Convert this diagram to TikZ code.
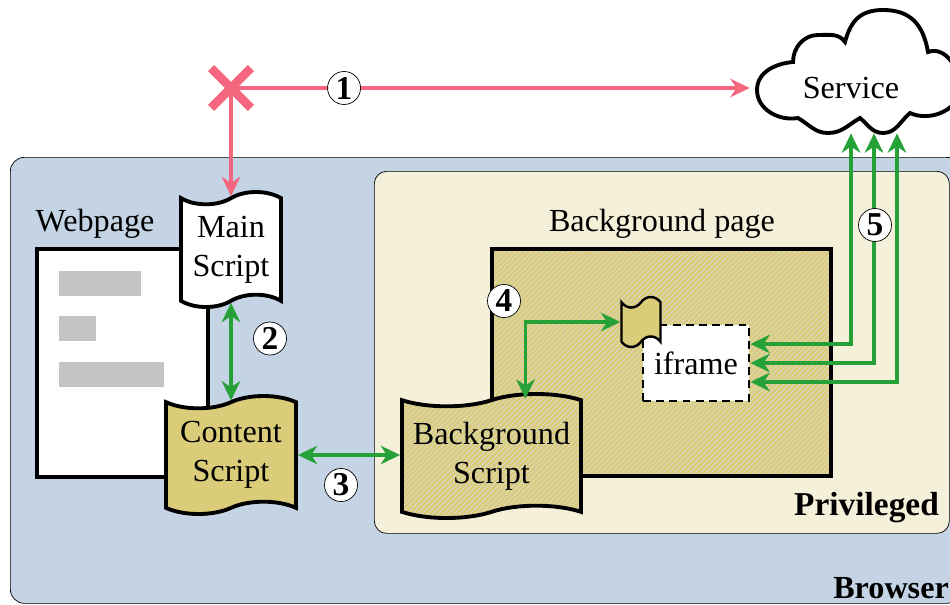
\documentclass[tikz,border=0pt]{standalone}
\usepackage{fontspec}
\setmainfont{Liberation Serif}
\usetikzlibrary{arrows.meta,positioning,patterns,shapes.symbols,shapes.misc}
\definecolor{browserblue}{HTML}{C5D4E5}
\definecolor{privcream}{HTML}{F5F0DA}
\definecolor{scriptyellow}{HTML}{DACC78}
\definecolor{okgreen}{HTML}{25A138}
\definecolor{badpink}{HTML}{F4677F}
\definecolor{bargray}{HTML}{C4C4C4}
\begin{document}
\begin{tikzpicture}[>={Stealth[length=11pt,width=10.5pt,inset=3.5pt]},on grid,node distance=2cm,
    every node/.style={font=\fontsize{18.3}{22}\selectfont,align=center},
    box/.style={draw=black,line width=2.2pt,inner sep=0pt},
    hatched/.style={preaction={fill=scriptyellow},preaction={pattern=north east lines,pattern color=gray!30}},
    script/.style={tape,draw=black,line width=2.2pt,inner sep=0pt,tape bend top=in and out,tape bend bottom=in and out,tape bend height=7pt},
    bar/.style={fill=bargray,inner sep=0pt,minimum height=.5cm,anchor=north west},
    numcirc/.style={circle,draw=black,fill=white,thin,inner sep=0pt,minimum size=.66cm,font=\fontsize{19}{20}\selectfont\bfseries},
    badline/.style={draw=badpink,line width=2pt,->},
    okline/.style={draw=okgreen,line width=2.2pt,<->}]
  \path[use as bounding box,clip] (0,0) rectangle (19,12.08);

  \node[draw=black,fill=browserblue,rounded corners=8pt,thin,inner sep=0pt,minimum width=19cm,minimum height=8.92cm,anchor=north west] (browser) at (.2,8.94) {};
  \node[draw=black,fill=privcream,rounded corners=7pt,thin,inner sep=0pt,minimum width=11.5cm,minimum height=7.24cm,anchor=north west] (priv) at (7.48,8.66) {};
  \node[anchor=east,font=\fontsize{18.3}{22}\selectfont\bfseries] (browserlabel) at (19.1,.32) {Browser};
  \node[anchor=east,font=\fontsize{19}{22}\selectfont\bfseries] (privlabel) at (18.9,1.92) {Privileged};

  \node[box,fill=white,minimum width=3.42cm,minimum height=4.56cm,anchor=north west] (page) at (.7,7.14) {};
  \node (pagelabel) at (1.9,7.6) {Webpage};
  \node[bar,minimum width=1.64cm] (bar1) at (1.18,6.66) {};
  \node[bar,minimum width=.74cm] (bar2) at (1.18,5.76) {};
  \node[bar,minimum width=2.1cm] (bar3) at (1.18,4.84) {};

  \node[box,hatched,minimum width=6.78cm,minimum height=4.54cm,anchor=north west] (bgpage) at (9.8,7.14) {};
  \node (bgpagelabel) at (13.24,7.6) {Background page};
  \node[draw=black,fill=white,dash pattern=on 4.5pt off 3pt,line width=1.6pt,inner sep=0pt,minimum width=2.12cm,minimum height=1.52cm] (iframe) at (13.92,4.82) {iframe};
  \node[script,fill=scriptyellow,line width=1.4pt,tape bend height=6pt,minimum width=.78cm,minimum height=1cm] (mini) at (12.82,5.64) {};

  \node[script,fill=white,minimum width=2cm,minimum height=2.3cm] (main) at (4.62,7.09) {Main\\Script};
  \node[script,fill=scriptyellow,minimum width=2.6cm,minimum height=2.36cm] (content) [below =4.11cm of main] {Content\\Script};
  \node[script,hatched,minimum width=3.58cm,minimum height=2.48cm] (bgscript) [below right =.02cm and 5.21cm of content] {Background\\Script};

  % the cloud
  \draw[fill=white,line width=2.2pt] (15.96,9.72) to[out=190,in=270] (15.14,10.28) to[out=90,in=185] (15.86,10.84)
    to[out=90,in=180] (16.36,11.38) to[out=0,in=125] (16.90,11.24) to[out=75,in=180,looseness=1.15] (17.66,11.88) to[out=0,in=100,looseness=1.15] (18.56,11.04)
    to[out=20,in=90] (19.2,10.32) to[out=270,in=-25] (18.20,9.82) to[out=220,in=0] (17.66,9.42)
    to[out=180,in=-40] (17.20,9.72) to[out=210,in=0] (16.56,9.42) to[out=180,in=-30] cycle;
  \node[inner sep=0pt,minimum width=4.04cm,minimum height=1.8cm] (service) at (17.02,10.32) {Service};

  \node[cross out,draw=badpink,line width=5pt,inner sep=0pt,minimum size=.62cm] (block) at (4.62,10.32) {};
  \path (block.center) edge [badline] node[numcirc,pos=.218] (n1) {1} (service.west)
        (block.center) edge [badline] (main.north);

  \path (main.south) edge [okline] (content.north)
        (content.east) edge [okline] (content.east -| bgscript.west);
  \draw[okline] ([xshift=.68cm]bgscript.north) |- (mini.west);
  \draw[okline] ([yshift=.38cm]iframe.east) -| (service.south);
  \draw[okline] (iframe.east) -| ([xshift=.46cm]service.south);
  \draw[okline] ([yshift=-.38cm]iframe.east) -| ([xshift=.92cm]service.south);

  \node[numcirc] (n2) [below right =1.78cm and .78cm of main] {2};
  \node[numcirc] (n3) [below right =.6cm and 2.2cm of content] {3};
  \node[numcirc] (n4) [above left =1.24cm and 3.84cm of iframe] {4};
  \node[numcirc] (n5) at (17.5,7.58) {5};
\end{tikzpicture}
\end{document}
